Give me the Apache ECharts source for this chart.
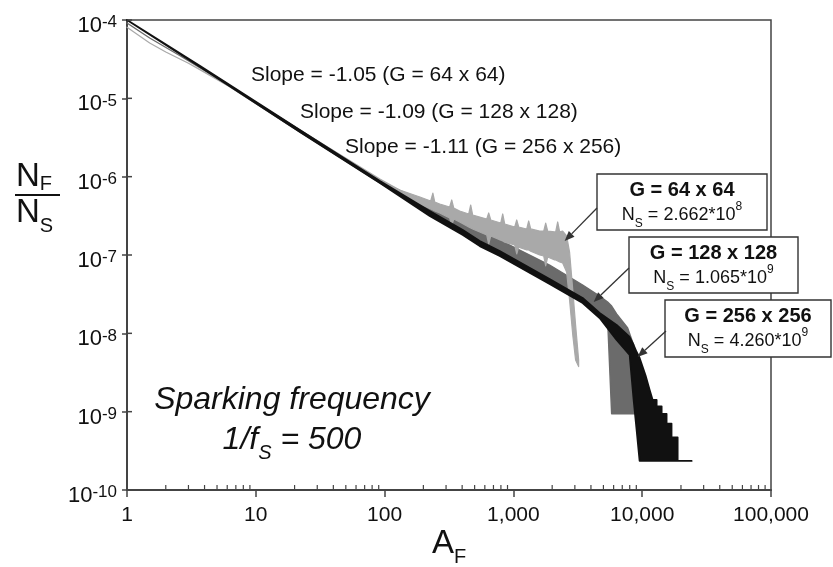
<!DOCTYPE html>
<html>
<head>
<meta charset="utf-8">
<script src="https://cdn.jsdelivr.net/npm/echarts@6/dist/echarts.min.js"></script>
<style>
  html, body { margin: 0; padding: 0; background: #fff; }
  #chart { width: 833px; height: 567px; }
</style>
</head>
<body>
<div id="chart"></div>
<script>
// Normalised avalanche-size distribution N_F/N_S versus A_F for three grid sizes.
// Each histogram is noisy, so it is stored as an upper / lower envelope per A_F.

const xTickLabels = ['1', '10', '100', '1,000', '10,000', '100,000'];
const yTickExponents = [-10, -9, -8, -7, -6, -5, -4];
const xMinorTicks = [2, 3, 4, 5, 6, 7, 8, 9,
  20, 30, 40, 50, 60, 70, 80, 90,
  200, 300, 400, 500, 600, 700, 800, 900,
  2000, 3000, 4000, 5000, 6000, 7000, 8000, 9000,
  20000, 30000, 40000, 50000, 60000, 70000, 80000, 90000];
const yMajorTicks = [1e-10, 1e-9, 1e-8, 1e-7, 1e-6, 1e-5, 1e-4];

// G = 64 x 64
const g64A  = [1, 1.5, 2, 3, 6.3, 22, 92,
  131, 188, 228, 237, 245, 268, 320, 332, 344, 383, 450, 466, 483, 548, 621, 643, 667, 797, 826, 856,
  1024, 1061, 1099, 1269, 1314, 1362, 1600, 1719, 1781, 1846, 2092, 2129, 2207, 2287, 2413,
  2590, 2730, 2890, 3040, 3210];
const g64Hi = [8.1e-5, 5.1e-5, 3.9e-5, 2.8e-5, 1.44e-5, 3.94e-6, 9.3e-7,
  6.76e-7, 5.50e-7, 4.89e-7, 6.18e-7, 4.75e-7, 4.48e-7, 4.10e-7, 5.04e-7, 3.98e-7, 3.64e-7, 3.34e-7, 4.35e-7, 3.24e-7, 3.05e-7, 2.88e-7, 3.44e-7, 2.80e-7, 2.56e-7, 3.34e-7, 2.49e-7,
  2.28e-7, 2.80e-7, 2.28e-7, 2.15e-7, 2.72e-7, 2.15e-7, 2.02e-7, 2.02e-7, 2.56e-7, 2.02e-7, 1.97e-7, 1.97e-7, 2.64e-7, 1.97e-7, 2.02e-7,
  1.75e-7, 1.09e-7, 3.57e-8, 1.28e-8, 4.56e-9];
const g64Lo = [8.1e-5, 5.1e-5, 3.9e-5, 2.8e-5, 1.40e-5, 3.72e-6, 8.81e-7,
  6.37e-7, 4.48e-7, 3.86e-7, 3.75e-7, 3.64e-7, 3.44e-7, 2.97e-7, 2.34e-7, 2.88e-7, 2.64e-7, 2.28e-7, 2.21e-7, 2.15e-7, 1.97e-7, 1.80e-7, 1.38e-7, 1.75e-7, 1.55e-7, 1.51e-7, 1.46e-7,
  1.34e-7, 1.03e-7, 1.26e-7, 1.16e-7, 1.16e-7, 1.12e-7, 1.00e-7, 9.71e-8, 7.24e-8, 9.43e-8, 8.63e-8, 8.63e-8, 8.38e-8, 8.14e-8, 7.90e-8,
  6.07e-8, 2.66e-8, 9.52e-9, 4.56e-9, 3.76e-9];

// G = 128 x 128
const g128A  = [1, 1.5, 2.6, 5.3, 22, 92, 188, 321, 548, 783, 1910, 3450, 4670, 5390, 5790, 6330, 7710, 8580, 9050, 9380];
const g128Hi = [9.15e-5, 5.89e-5, 3.47e-5, 1.71e-5, 3.94e-6, 8.81e-7, 5.04e-7, 3.54e-7, 2.09e-7, 1.55e-7, 7.45e-8, 4.14e-8, 2.99e-8, 2.51e-8, 2.23e-8, 1.77e-8, 1.17e-8, 7.10e-9, 2.82e-9, 1.88e-9];
const g128Lo = [9.15e-5, 5.89e-5, 3.47e-5, 1.71e-5, 3.72e-6, 8.30e-7, 3.98e-7, 2.64e-7, 1.46e-7, 1.09e-7, 4.80e-8, 2.74e-8, 1.87e-8, 1.48e-8, 9.39e-10, 9.39e-10, 9.39e-10, 9.39e-10, 9.39e-10, 9.39e-10];

// G = 256 x 256
const g256A  = [1, 3.7, 22, 92, 224, 405, 548, 783, 1910, 3450, 4670, 6330, 7990, 8580, 9050, 9550, 10620, 11410, 12050, 12940, 12940, 14150, 14150, 15460, 15460, 16890, 16890, 18840, 18840, 24200];
const g256Hi = [1e-4, 2.59e-5, 3.94e-6, 8.81e-7, 3.65e-7, 2.08e-7, 1.51e-7, 1.12e-7, 4.94e-8, 2.83e-8, 1.82e-8, 1.28e-8, 8.97e-9, 7.10e-9, 5.78e-9, 4.84e-9, 2.9e-9, 1.9e-9, 1.41e-9, 1.41e-9, 1.17e-9, 1.17e-9, 9.39e-10, 9.39e-10, 7.04e-10, 7.04e-10, 4.70e-10, 4.70e-10, 2.35e-10, 2.35e-10];
const g256Lo = [1e-4, 2.51e-5, 3.72e-6, 8.30e-7, 3.15e-7, 1.80e-7, 1.30e-7, 9.71e-8, 4.27e-8, 2.44e-8, 1.57e-8, 8.22e-9, 5.29e-9, 1.41e-9, 5.83e-10, 2.35e-10, 2.35e-10, 2.35e-10, 2.35e-10, 2.35e-10, 2.35e-10, 2.35e-10, 2.35e-10, 2.35e-10, 2.35e-10, 2.35e-10, 2.35e-10, 2.35e-10, 2.35e-10, 2.35e-10];

const slopeTexts = ['Slope = -1.05 (G = 64 x 64)', 'Slope = -1.09 (G = 128 x 128)', 'Slope = -1.11 (G = 256 x 256)'];
const boxTitles = ['G = 64 x 64', 'G = 128 x 128', 'G = 256 x 256'];
const boxNs = ['2.662*10', '1.065*10', '4.260*10'];
const boxNsExp = ['8', '9', '9'];
// where each box's arrow points on its curve (A_F, N_F/N_S)
const arrowTargets = [[2500, 1.51e-7], [4200, 2.51e-8], [9200, 4.99e-9]];

const FONT = '"Liberation Sans", Arial, Helvetica, sans-serif';
const INK = '#111';
const AXIS = '#444';

function envelopeSeries(name, A, hi, lo, color, z, width) {
  return {
    type: 'custom',
    name: name,
    z: z,
    silent: true,
    data: A.map(function (a, i) { return [a, hi[i], lo[i]]; }),
    encode: { x: 0, y: [1, 2] },
    renderItem: function (params, api) {
      if (params.dataIndex !== 0) return;
      var pts = [];
      for (var i = 0; i < A.length; i++) pts.push(api.coord([A[i], hi[i]]));
      for (var j = A.length - 1; j >= 0; j--) pts.push(api.coord([A[j], lo[j]]));
      return {
        type: 'polygon',
        shape: { points: pts },
        style: { fill: color, stroke: color, lineWidth: width, lineJoin: 'round' }
      };
    }
  };
}

const chart = echarts.init(document.getElementById('chart'), null, { renderer: 'canvas' });

chart.setOption({
  animation: false,
  backgroundColor: '#fff',
  grid: { left: 127, right: 62, top: 20, bottom: 77, show: true, borderColor: AXIS, borderWidth: 1.5, backgroundColor: 'transparent' },
  xAxis: {
    type: 'log', logBase: 10, min: 1, max: 100000, splitNumber: 5,
    axisLine: { show: true, lineStyle: { color: AXIS, width: 2 } },
    axisTick: { show: true, length: 7, lineStyle: { color: AXIS, width: 1.5 } },
    splitLine: { show: false },
    axisLabel: {
      margin: 15, fontSize: 21, fontFamily: FONT, color: INK,
      formatter: function (v) { return xTickLabels[Math.round(Math.log10(v))]; }
    }
  },
  yAxis: {
    type: 'log', logBase: 10, min: 1e-10, max: 1e-4, splitNumber: 6,
    axisLine: { show: true, lineStyle: { color: AXIS, width: 2 } },
    axisTick: { show: true, length: 5, lineStyle: { color: AXIS, width: 1.5 } },
    splitLine: { show: false },
    axisLabel: {
      margin: 10, fontFamily: FONT, color: INK,
      formatter: function (v) {
        var e = Math.round(Math.log10(v));
        return yTickExponents.indexOf(e) >= 0 ? '{b|10}{s|' + e + '}' : '';
      },
      rich: {
        b: { fontSize: 22, lineHeight: 22, padding: [12, 0, 0, 0], fontFamily: FONT, color: INK },
        s: { fontSize: 17, lineHeight: 17, padding: [5, 0, 0, 0], verticalAlign: 'top', fontFamily: FONT, color: INK }
      }
    }
  },
  series: [
    envelopeSeries('G = 128 x 128', g128A, g128Hi, g128Lo, '#6b6b6b', 2, 1.4),
    envelopeSeries('G = 64 x 64', g64A, g64Hi, g64Lo, '#a9a9a9', 3, 1.2),
    envelopeSeries('G = 256 x 256', g256A, g256Hi, g256Lo, '#111111', 4, 1.8),
    {
      // minor ticks on the A_F axis, pointing into the plot
      type: 'custom', z: 6, silent: true,
      data: xMinorTicks.map(function (v) { return [v, 1e-10]; }),
      encode: { x: 0, y: 1 },
      renderItem: function (params, api) {
        var p = api.coord([api.value(0), api.value(1)]);
        return { type: 'line', shape: { x1: p[0], y1: p[1], x2: p[0], y2: p[1] - 5 }, style: { stroke: AXIS, lineWidth: 1.2 } };
      }
    },
    {
      // inner half of the major ticks on the N_F/N_S axis
      type: 'custom', z: 6, silent: true,
      data: yMajorTicks.map(function (v) { return [1, v]; }),
      encode: { x: 0, y: 1 },
      renderItem: function (params, api) {
        var p = api.coord([api.value(0), api.value(1)]);
        return { type: 'line', shape: { x1: p[0], y1: p[1], x2: p[0] + 5, y2: p[1] }, style: { stroke: AXIS, lineWidth: 1.5 } };
      }
    }
  ]
});

// Annotations: slope notes, labelled boxes with arrows, axis titles, run parameters.
function arrow(x1, y1, x2, y2) {
  var ang = Math.atan2(y2 - y1, x2 - x1);
  var L = 10, W = 4;
  var bx = x2 - L * Math.cos(ang), by = y2 - L * Math.sin(ang);
  var nx = -Math.sin(ang) * W, ny = Math.cos(ang) * W;
  return [
    { type: 'line', z: 100, shape: { x1: x1, y1: y1, x2: bx, y2: by }, style: { stroke: '#333', lineWidth: 1.3 } },
    { type: 'polygon', z: 100, shape: { points: [[x2, y2], [bx + nx, by + ny], [bx - nx, by - ny]] }, style: { fill: '#333' } }
  ];
}

function box(i, x, y, w, h, tailX, tailY) {
  var tip = chart.convertToPixel({ gridIndex: 0 }, arrowTargets[i]);
  var cx = x + w / 2;
  return [
    { type: 'rect', z: 100, shape: { x: x, y: y, width: w, height: h }, style: { fill: '#fff', stroke: '#333', lineWidth: 1.4 } },
    { type: 'text', z: 101, x: cx, y: y + 16, style: { text: boxTitles[i], font: 'bold 20px ' + FONT, fill: INK, align: 'center', verticalAlign: 'middle' } },
    { type: 'text', z: 101, x: cx, y: y + 41, style: {
        text: '{n|N}{sub|S}{t| = ' + boxNs[i] + '}{sup|' + boxNsExp[i] + '}',
        align: 'center', verticalAlign: 'middle',
        rich: {
          n: { fontSize: 18, fontFamily: FONT, fill: INK, lineHeight: 22 },
          t: { fontSize: 18, fontFamily: FONT, fill: INK, lineHeight: 22 },
          sub: { fontSize: 12, fontFamily: FONT, fill: INK, lineHeight: 12, verticalAlign: 'bottom', padding: [0, 0, -4, 0] },
          sup: { fontSize: 12, fontFamily: FONT, fill: INK, lineHeight: 12, verticalAlign: 'top', padding: [-3, 0, 0, 0] }
        }
      } }
  ].concat(arrow(tailX, tailY, tip[0], tip[1]));
}

var graphics = [];
var slopePos = [[251, 75], [300, 112], [345, 147]];
slopeTexts.forEach(function (t, i) {
  graphics.push({ type: 'text', z: 100, x: slopePos[i][0], y: slopePos[i][1], style: { text: t, font: '21px ' + FONT, fill: INK, align: 'left', verticalAlign: 'middle' } });
});
graphics = graphics
  .concat(box(0, 597, 174, 170, 56, 597, 208))
  .concat(box(1, 629, 237, 169, 56, 629, 268))
  .concat(box(2, 665, 300, 166, 57, 666, 331));

// N_F / N_S title on the vertical axis
graphics.push(
  { type: 'text', z: 100, x: 16, y: 177, style: { text: '{n|N}{s|F}', verticalAlign: 'middle', align: 'left',
      rich: { n: { fontSize: 33, fontFamily: FONT, fill: INK, lineHeight: 34 },
              s: { fontSize: 20, fontFamily: FONT, fill: INK, lineHeight: 20, verticalAlign: 'bottom' } } } },
  { type: 'line', z: 100, shape: { x1: 15, y1: 195, x2: 60, y2: 195 }, style: { stroke: INK, lineWidth: 2 } },
  { type: 'text', z: 100, x: 16, y: 213, style: { text: '{n|N}{s|S}', verticalAlign: 'middle', align: 'left',
      rich: { n: { fontSize: 33, fontFamily: FONT, fill: INK, lineHeight: 34 },
              s: { fontSize: 20, fontFamily: FONT, fill: INK, lineHeight: 20, verticalAlign: 'bottom', padding: [0, 0, -6, 0] } } } },
  // A_F title on the horizontal axis
  { type: 'text', z: 100, x: 449, y: 544, style: { text: '{n|A}{s|F}', verticalAlign: 'middle', align: 'center',
      rich: { n: { fontSize: 33, fontFamily: FONT, fill: INK, lineHeight: 34 },
              s: { fontSize: 20, fontFamily: FONT, fill: INK, lineHeight: 20, verticalAlign: 'bottom', padding: [0, 0, -6, 0] } } } },
  // run parameters
  { type: 'text', z: 100, x: 292, y: 400, style: { text: 'Sparking frequency', font: 'italic 32px ' + FONT, fill: INK, align: 'center', verticalAlign: 'middle' } },
  { type: 'text', z: 100, x: 292, y: 440, style: { text: '{t|1/f}{s|S}{t| = 500}', align: 'center', verticalAlign: 'middle',
      rich: { t: { fontSize: 32, fontStyle: 'italic', fontFamily: FONT, fill: INK, lineHeight: 34 },
              s: { fontSize: 20, fontStyle: 'italic', fontFamily: FONT, fill: INK, lineHeight: 20, verticalAlign: 'bottom', padding: [0, 0, -6, 0] } } } }
);

chart.setOption({ graphic: { elements: graphics } });
</script>
</body>
</html>
